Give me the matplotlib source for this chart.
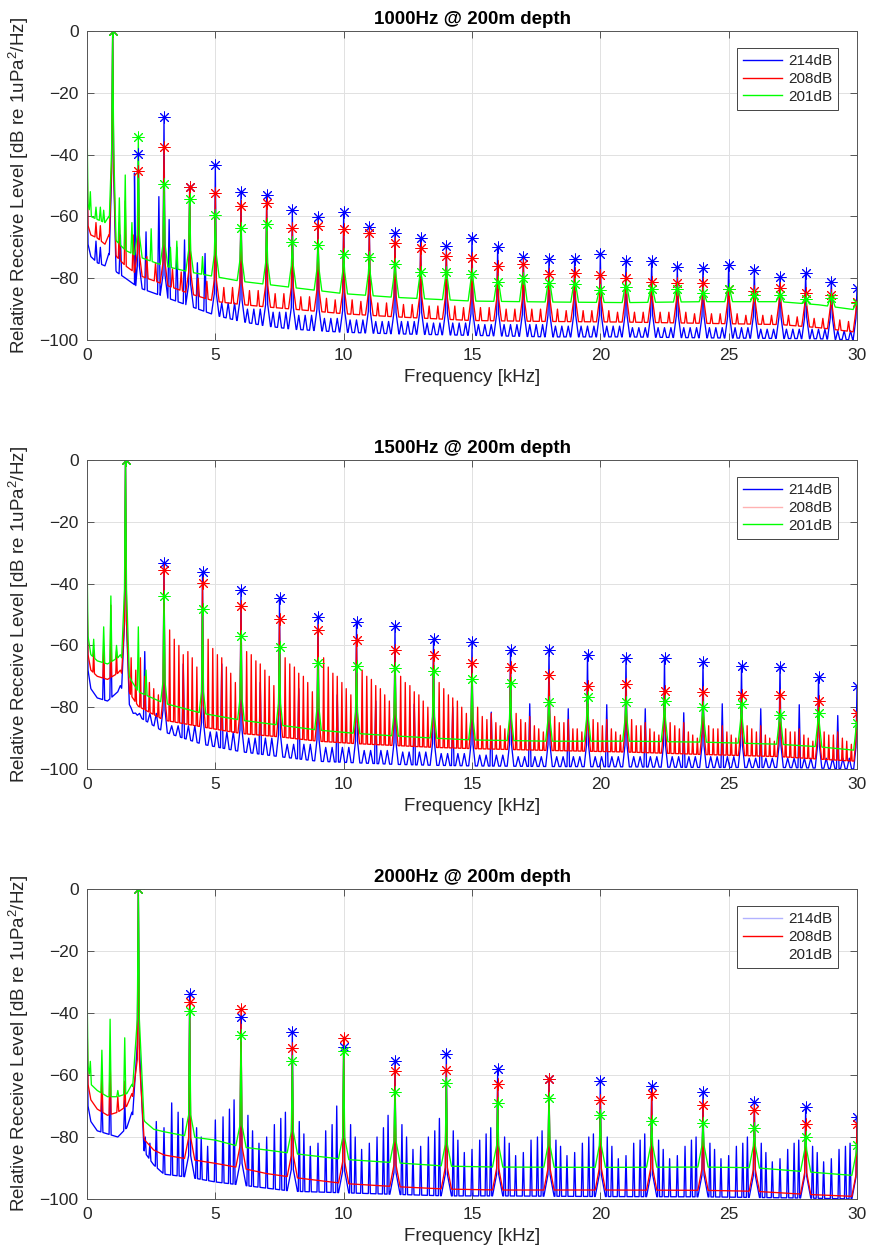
import numpy as np
import matplotlib
matplotlib.use('Agg')
import matplotlib.pyplot as plt
from matplotlib.lines import Line2D

plt.rcParams['font.family'] = ['Liberation Sans', 'DejaVu Sans']
plt.rcParams['mathtext.fontset'] = 'custom'
plt.rcParams['mathtext.rm'] = 'Liberation Sans'
plt.rcParams['mathtext.it'] = 'Liberation Sans:italic'

# ---------------- data ----------------
TITLES = ['1000Hz @ 200m depth', '1500Hz @ 200m depth', '2000Hz @ 200m depth']
LABELS = ['214dB', '208dB', '201dB']
X_TICKS = [0, 5, 10, 15, 20, 25, 30]
Y_TICKS = [-100, -80, -60, -40, -20, 0]

# ---- panel 1 : 1000 Hz ----
P1_HARM = [1, 2, 3, 4, 5, 6, 7, 8, 9, 10, 11, 12, 13, 14, 15, 16, 17, 18, 19, 20,
           21, 22, 23, 24, 25, 26, 27, 28, 29, 30]
P1_BLUE_PK = [0, -39.9, -27.9, -50.4, -43.4, -52.0, -53.1, -57.9, -60.1, -58.5, -63.3, -65.5,
              -67.1, -69.6, -66.9, -69.8, -73.2, -73.9, -73.8, -72.3, -74.3, -74.5, -76.3,
              -76.8, -75.7, -77.3, -79.5, -78.4, -81.1, -83.3]
P1_RED_PK = [0, -45.2, -37.4, -50.4, -52.3, -56.5, -55.8, -63.6, -63.0, -64.2, -65.3, -68.7,
             -70.3, -72.7, -73.4, -75.9, -75.5, -78.6, -78.3, -79.0, -80.0, -81.1, -81.4,
             -81.7, -83.6, -84.0, -83.3, -84.7, -85.4, -87.6]
P1_GREEN_PK = [0, -34.4, -49.6, -54.4, -59.5, -63.6, -62.5, -68.2, -69.3, -72.3, -73.2, -75.5,
               -77.9, -78.1, -78.6, -81.3, -80.0, -81.7, -82.0, -83.8, -82.7, -83.6, -83.6,
               -84.9, -83.6, -85.4, -85.4, -86.8, -86.5, -87.9]
P1_HUMP = [-46, -44, -38]
P1_FLOOR_F = [0, 0.04, 0.15, 0.4, 0.7, 0.85, 1.15, 1.5, 2, 3, 4, 5, 6, 7, 8, 10, 12, 15, 18,
              21, 24, 27, 28.5, 30]
P1_BLUE_FL = [-45, -69, -73, -75, -76, -72, -78, -80, -83, -86, -89, -92, -94, -95.5, -96.5,
              -97.5, -98, -98.5, -99, -99, -99.3, -99.5, -99.6, -100]
P1_RED_FL = [-40, -63, -66, -67, -69, -66, -73, -76, -79, -82, -85, -87.5, -88.5, -89.3, -90,
             -91.5, -92.5, -93.7, -94, -94.2, -94.6, -95, -96, -97.5]
P1_GREEN_FL = [-28, -56, -60, -61, -62, -60, -68, -71, -73, -76, -78, -79.5, -81, -82, -83,
               -85, -86.2, -87.4, -87.7, -87.9, -87.6, -87.6, -88.6, -90.3]
P1_BLUE_SP_F = [0.35, 0.52, 1.3, 1.85, 2.3, 2.8, 3.2, 3.5, 3.8, 4.3, 4.6]
P1_BLUE_SP_V = [-68, -70, -66, -46, -65, -53.6, -61, -70, -67.6, -75, -72]
P1_RED_SP_F = [0.35, 0.52, 1.26, 1.49, 1.8]
P1_RED_SP_V = [-62, -63, -62, -55, -66]
P1_GREEN_SP_F = [0.13, 0.35, 0.52, 0.65, 1.26, 1.49, 1.75, 2.5, 3.25, 3.5, 4.5]
P1_GREEN_SP_V = [-52, -57, -57, -58, -54, -46.6, -62, -64, -70, -68, -73]
P1_RED_SUB_OFF = [0.33, 0.67]
P1_RED_SUB_V = [[-73, -75], [-77, -78], [-80, -81], [-83, -83], [-84, -84], [-85, -85],
                [-86, -86], [-86.5, -87], [-87, -87.5], [-88, -88], [-88.5, -88.5], [-89, -89],
                [-89, -89.5], [-89.5, -89.5], [-90, -90], [-90, -90], [-90, -90.5],
                [-90.5, -90.5], [-90.5, -91], [-91, -91], [-91, -91], [-91, -91.5],
                [-91.5, -91.5], [-91.5, -92], [-92, -92], [-92, -92.5], [-93, -93],
                [-93.5, -94]]          # intervals starting at 2 .. 29 kHz
P1_BLUE_RIP_OFF = [0.25, 0.5, 0.75]
P1_BLUE_RIP_V = [-88, -90, -91, -92, -93, -93.5, -94, -94, -94.5, -94.5, -95, -95, -95,
                 -95.5, -95.5, -95.5, -96, -96, -96, -96, -96, -96.5, -96.5, -96.5, -97]  # 5..29

# ---- panel 2 : 1500 Hz ----
P2_HARM = [1.5, 3, 4.5, 6, 7.5, 9, 10.5, 12, 13.5, 15, 16.5, 18, 19.5, 21, 22.5, 24, 25.5,
           27, 28.5, 30]
P2_BLUE_PK = [0, -33.4, -36.1, -42.1, -44.8, -50.7, -52.5, -53.6, -57.9, -59.0, -61.5, -61.5,
              -63.1, -64.2, -64.2, -65.3, -66.6, -66.9, -70.1, -73.1]
P2_RED_PK = [0, -35.6, -39.9, -47.1, -51.5, -55.0, -58.3, -61.5, -63.1, -65.8, -66.9, -69.6,
             -73.3, -72.5, -74.6, -75.2, -76.1, -76.1, -77.9, -81.8]
P2_GREEN_PK = [0, -43.9, -48.2, -57.0, -60.4, -65.6, -66.7, -67.4, -68.2, -71.0, -72.3, -78.2,
               -76.6, -78.2, -78.0, -79.8, -79.1, -82.5, -81.8, -85.0]
P2_HUMP = [-53, -52, -42]
P2_FLOOR_F = [0, 0.04, 0.15, 0.4, 0.8, 1.2, 1.3, 1.7, 2, 3, 4.5, 6, 7.5, 9, 10.5, 12, 13.5,
              15, 18, 21, 24, 27, 28.5, 30]
P2_BLUE_FL = [-46, -68, -74, -77, -78, -75, -73, -80, -83, -88, -92, -94.4, -96, -97.5, -98,
              -98.5, -98.8, -99, -99.2, -99.3, -99.5, -99.5, -99.7, -100]
P2_RED_FL = [-42, -63, -68, -70, -71, -69, -68, -76, -79.7, -84.2, -86.4, -88.5, -89.6, -91,
             -91.8, -92.4, -93, -93.4, -94, -94.5, -95.3, -96, -96.8, -97.5]
P2_GREEN_FL = [-30, -57, -63, -65, -66, -64, -63, -71, -75, -78.7, -82, -84.2, -85.8, -87.4,
               -88.5, -89.3, -90, -90.6, -91, -91, -91.3, -92, -92.8, -94]
P2_BLUE_SP_F = [0.65, 0.93]
P2_BLUE_SP_V = [-62, -55]
P2_RED_SP_F = [0.26, 0.65, 0.93, 1.15]
P2_RED_SP_V = [-62, -60, -47, -62]
P2_GREEN_SP_F = [0.26, 0.65, 0.93, 1.15, 2.0, 2.3]
P2_GREEN_SP_V = [-58, -54, -44, -60, -54, -68]
P2_RED_IM_OFF = [0.22, 0.4, 0.58, 0.75, 0.93, 1.1, 1.28]
P2_RED_IM_V = [[-64, -68, -64, -70, -72, -74, -76],
               [-55, -58, -60, -63, -62, -64, -67],
               [-58, -61, -63, -64, -67, -69, -72],
               [-62, -63, -65, -66, -68, -70, -73],
               [-64, -66, -67, -69, -70, -72, -75],
               [-64, -67, -69, -70, -72, -74, -76],
               [-68, -70, -71, -73, -74, -76, -78],
               [-70, -72, -73, -75, -76, -78, -80],
               [-72, -74, -76, -77, -78, -80, -82],
               [-80, -83, -84, -82, -85, -86, -87],
               [-82, -84, -85, -83, -86, -87, -88],
               [-83, -85, -85, -84, -87, -87, -88],
               [-84, -85, -86, -84, -87, -88, -89],
               [-84, -86, -86, -85, -87, -88, -89],
               [-85, -86, -87, -85, -88, -89, -90],
               [-86, -87, -87, -86, -88, -89, -90],
               [-86, -87, -88, -86, -89, -90, -91],
               [-87, -88, -88, -87, -89, -90, -91],
               [-88, -89, -89, -88, -90, -91, -92]]
P2_BLUE_MID_OFF = 0.75
P2_BLUE_MID_V = [-62, -66, -66, -72, -74, -76, -78, -79, -80, -81.6, -78.9, -80.5, -79.2,
                 -80.5, -81.8, -78.9, -80.5, -79.2, -82.7]
P2_BLUE_RIP_OFF = [0.3, 0.55, 0.95, 1.2]
P2_BLUE_RIP_V = [-82, -86, -88, -90, -92, -93, -94, -94.5, -95, -95.5, -96, -96, -96, -96,
                 -96, -96, -96.5, -96.5, -96.5]

# ---- panel 3 : 2000 Hz ----
P3_HARM = [2, 4, 6, 8, 10, 12, 14, 16, 18, 20, 22, 24, 26, 28, 30]
P3_BLUE_PK = [0, -34.0, -41.2, -46.2, -50.9, -55.5, -53.3, -58.2, -61.4, -61.8, -63.5, -65.4,
              -68.6, -70.4, -73.7]
P3_RED_PK = [0, -36.3, -38.8, -51.4, -48.0, -58.6, -58.4, -63.0, -61.4, -68.1, -66.2, -69.7,
             -71.3, -75.8, -75.8]
P3_GREEN_PK = [0, -39.2, -47.1, -55.4, -52.2, -65.4, -62.5, -69.1, -67.5, -72.9, -74.7, -75.6,
               -77.2, -79.9, -82.6]
P3_HUMP = [-50, -55, -42]
P3_FLOOR_F = [0, 0.04, 0.15, 0.4, 0.8, 1.2, 1.55, 1.75, 2.25, 2.6, 3, 4, 5, 6, 7, 8, 10, 12,
              14, 16, 20, 24, 26, 28, 30]
P3_BLUE_FL = [-45, -70, -75, -78, -79, -80, -77, -72, -85, -89, -92, -93, -94.5, -95.5, -96.5,
              -97.5, -98, -98.5, -99, -99, -99.2, -99.3, -99.5, -99.7, -100]
P3_RED_FL = [-40, -63, -68, -71, -73, -72, -70, -66, -81, -84.2, -85.8, -87.2, -88.5, -90,
             -91.8, -93, -95, -96, -96.8, -97.1, -97.1, -97.2, -97.5, -98.5, -99.2]
P3_GREEN_FL = [-30, -57, -63, -65, -67, -67, -66, -63, -75, -77.5, -78.3, -79.9, -81, -83.2,
               -84.2, -85.3, -87.2, -88.3, -89.4, -89.7, -89.8, -89.7, -89.9, -91.2, -92.5]
P3_BLUE_SP_F = [0.58, 0.9, 1.47]
P3_BLUE_SP_V = [-66, -58, -68]
P3_RED_SP_F = [0.58, 0.9, 1.2, 1.47]
P3_RED_SP_V = [-60, -54, -67, -62]
P3_GREEN_SP_F = [0.13, 0.58, 0.9, 1.2, 1.47]
P3_GREEN_SP_V = [-55.6, -52, -42, -65, -48]
P3_BLUE_IM_OFF = [0.27, 0.45, 0.7, 1.0, 1.3, 1.55, 1.73]
P3_BLUE_IM_V = [[-80, -82, -75, -77, -69, -72, -74],
                [-77, -80, -83, -74.5, -73.5, -71, -68],
                [-73, -78, -82, -80, -76, -74, -72],
                [-75, -79, -83, -82, -78, -76, -70],
                [-76, -80, -84, -82, -80, -77, -73],
                [-76, -80, -84, -83, -80, -78, -74],
                [-78, -81, -85, -84, -81, -79, -77],
                [-80, -82, -86, -85, -81, -80, -78],
                [-81, -83, -86, -85, -82, -80, -79],
                [-80, -83, -87, -86, -82, -81, -79],
                [-81, -84, -87, -86, -83, -81, -80],
                [-82, -84, -87, -86, -83, -82, -80],
                [-82, -85, -88, -87, -84, -82, -81],
                [-83, -85, -88, -87, -84, -83, -82]]

COLORS = ['#0000ff', '#ff0000', '#00ff00']


# ---------------- helpers ----------------
def make_line(floor_f, floor_v, spikes):
    """Floor polyline with narrow triangular spikes standing on it."""
    ff = np.asarray(floor_f, float)
    fv = np.asarray(floor_v, float)
    keep = np.ones(len(ff), bool)
    xs, ys = [], []
    for f, half, top, sh in spikes:
        keep &= ~((ff > f - half) & (ff < f + half))
        b0, b1 = np.interp([f - half, f + half], ff, fv)
        if sh is None:
            xs += [f - half, f, f + half]
            ys += [b0, top, b1]
        else:
            xs += [f - half, f - 0.04, f, f + 0.04, f + half]
            ys += [b0, sh, top, sh, b1]
    xs = np.concatenate([ff[keep], np.asarray(xs, float)])
    ys = np.concatenate([fv[keep], np.asarray(ys, float)])
    o = np.argsort(xs, kind='stable')
    return xs[o], ys[o]


def harmonic_spikes(harm, peaks, half, hump, hump_half, floor_f, floor_v):
    out = []
    for i, (f, p) in enumerate(zip(harm, peaks)):
        if i == 0:
            out.append((f, hump_half, p, hump))
        else:
            base = float(np.interp(f, floor_f, floor_v))
            out.append((f, half, p, min(p, base + 7)))
    return out


def simple_spikes(fs, vs, half):
    return [(f, half, v, None) for f, v in zip(fs, vs)]


def interval_spikes(harm, offsets, levels, half, start=0):
    out = []
    for k, row in enumerate(levels):
        h = harm[start + k]
        if np.isscalar(row):
            row = [row] * len(offsets)
        for off, v in zip(offsets, row):
            out.append((h + off, half, v, None))
    return out


# ---------------- figure ----------------
fig = plt.figure(figsize=(8.74, 12.6), dpi=100)
W, H = 874.0, 1260.0
ax_left, ax_right = 87, 857
panel_px = [(31, 340), (460, 769), (889, 1199)]
axes = []
for top, bot in panel_px:
    axes.append(fig.add_axes([ax_left / W, 1 - bot / H, (ax_right - ax_left) / W, (bot - top) / H]))

panels = []
# panel 1
s_b = (harmonic_spikes(P1_HARM, P1_BLUE_PK, 0.15, P1_HUMP[0], 0.13, P1_FLOOR_F, P1_BLUE_FL)
       + simple_spikes(P1_BLUE_SP_F, P1_BLUE_SP_V, 0.05)
       + interval_spikes(P1_HARM, P1_BLUE_RIP_OFF, P1_BLUE_RIP_V, 0.08, start=4))
s_r = (harmonic_spikes(P1_HARM, P1_RED_PK, 0.15, P1_HUMP[1], 0.13, P1_FLOOR_F, P1_RED_FL)
       + simple_spikes(P1_RED_SP_F, P1_RED_SP_V, 0.04)
       + interval_spikes(P1_HARM, P1_RED_SUB_OFF, P1_RED_SUB_V, 0.05, start=1))
s_g = (harmonic_spikes(P1_HARM, P1_GREEN_PK, 0.15, P1_HUMP[2], 0.13, P1_FLOOR_F, P1_GREEN_FL)
       + simple_spikes(P1_GREEN_SP_F, P1_GREEN_SP_V, 0.04))
panels.append(dict(
    lines=[make_line(P1_FLOOR_F, P1_BLUE_FL, s_b),
           make_line(P1_FLOOR_F, P1_RED_FL, s_r),
           make_line(P1_FLOOR_F, P1_GREEN_FL, s_g)],
    marks=[(P1_HARM, P1_BLUE_PK), (P1_HARM, P1_RED_PK), (P1_HARM, P1_GREEN_PK)],
    legend_alpha=[1, 1, 1]))

# panel 2
s_b = (harmonic_spikes(P2_HARM, P2_BLUE_PK, 0.13, P2_HUMP[0], 0.15, P2_FLOOR_F, P2_BLUE_FL)
       + simple_spikes(P2_BLUE_SP_F, P2_BLUE_SP_V, 0.04)
       + interval_spikes(P2_HARM, [P2_BLUE_MID_OFF], [[v] for v in P2_BLUE_MID_V], 0.05)
       + interval_spikes(P2_HARM, P2_BLUE_RIP_OFF, P2_BLUE_RIP_V, 0.09))
s_r = (harmonic_spikes(P2_HARM, P2_RED_PK, 0.12, P2_HUMP[1], 0.15, P2_FLOOR_F, P2_RED_FL)
       + simple_spikes(P2_RED_SP_F, P2_RED_SP_V, 0.03)
       + interval_spikes(P2_HARM, P2_RED_IM_OFF, P2_RED_IM_V, 0.03))
s_g = (harmonic_spikes(P2_HARM, P2_GREEN_PK, 0.13, P2_HUMP[2], 0.15, P2_FLOOR_F, P2_GREEN_FL)
       + simple_spikes(P2_GREEN_SP_F, P2_GREEN_SP_V, 0.04))
panels.append(dict(
    lines=[make_line(P2_FLOOR_F, P2_BLUE_FL, s_b),
           make_line(P2_FLOOR_F, P2_RED_FL, s_r),
           make_line(P2_FLOOR_F, P2_GREEN_FL, s_g)],
    marks=[(P2_HARM, P2_BLUE_PK), (P2_HARM, P2_RED_PK), (P2_HARM, P2_GREEN_PK)],
    legend_alpha=[1, 0.3, 1]))

# panel 3
s_b = (harmonic_spikes(P3_HARM, P3_BLUE_PK, 0.2, P3_HUMP[0], 0.22, P3_FLOOR_F, P3_BLUE_FL)
       + simple_spikes(P3_BLUE_SP_F, P3_BLUE_SP_V, 0.04)
       + interval_spikes(P3_HARM, P3_BLUE_IM_OFF, P3_BLUE_IM_V, 0.04))
s_r = (harmonic_spikes(P3_HARM, P3_RED_PK, 0.2, P3_HUMP[1], 0.22, P3_FLOOR_F, P3_RED_FL)
       + simple_spikes(P3_RED_SP_F, P3_RED_SP_V, 0.04))
s_g = (harmonic_spikes(P3_HARM, P3_GREEN_PK, 0.2, P3_HUMP[2], 0.22, P3_FLOOR_F, P3_GREEN_FL)
       + simple_spikes(P3_GREEN_SP_F, P3_GREEN_SP_V, 0.04))
panels.append(dict(
    lines=[make_line(P3_FLOOR_F, P3_BLUE_FL, s_b),
           make_line(P3_FLOOR_F, P3_RED_FL, s_r),
           make_line(P3_FLOOR_F, P3_GREEN_FL, s_g)],
    marks=[(P3_HARM, P3_BLUE_PK), (P3_HARM, P3_RED_PK), (P3_HARM, P3_GREEN_PK)],
    legend_alpha=[0.3, 1, 0.0]))

TXT = '#262626'
AST = (8, 2, 0)
for ax, pan, title in zip(axes, panels, TITLES):
    for (x, y), c in zip(pan['lines'], COLORS):
        ax.plot(x, y, color=c, lw=0.95)
    for (x, y), c in zip(pan['marks'], COLORS):
        ax.plot(x, y, linestyle='none', marker=AST, ms=8.5, mew=0.7, color=c)
    ax.set_xlim(0, 30)
    ax.set_ylim(-100, 0)
    ax.set_xticks(X_TICKS)
    ax.set_yticks(Y_TICKS)
    ax.grid(True, color='#e1e1e1', lw=0.7)
    ax.set_axisbelow(True)
    for sp in ax.spines.values():
        sp.set_color('#555555')
        sp.set_linewidth(0.7)
    ax.tick_params(direction='in', top=True, right=True, length=5, width=0.7,
                   color='#555555', labelcolor=TXT, labelsize=12.5, pad=6)
    ax.set_title(title, fontsize=13.5, fontweight='bold', color='#000000', pad=5)
    ax.set_xlabel('Frequency [kHz]', fontsize=13.5, color=TXT, labelpad=4)
    ax.set_ylabel(r'Relative Receive Level [dB re 1uPa$^2$/Hz]', fontsize=13.5,
                  color=TXT, labelpad=6)
    handles = [Line2D([], [], color=c, lw=1.0, alpha=a) for c, a in zip(COLORS, pan['legend_alpha'])]
    leg = ax.legend(handles, LABELS, loc='upper right',
                    bbox_to_anchor=(1 - 19 / 770, 1 - 17 / 309), borderaxespad=0,
                    fontsize=11, handlelength=2.5, labelspacing=0.25, handletextpad=0.4,
                    borderpad=0.4, fancybox=False, framealpha=1, edgecolor='#444444')
    leg.get_frame().set_linewidth(0.7)
    for t in leg.get_texts():
        t.set_color(TXT)

fig.savefig('out.png', dpi=100)
